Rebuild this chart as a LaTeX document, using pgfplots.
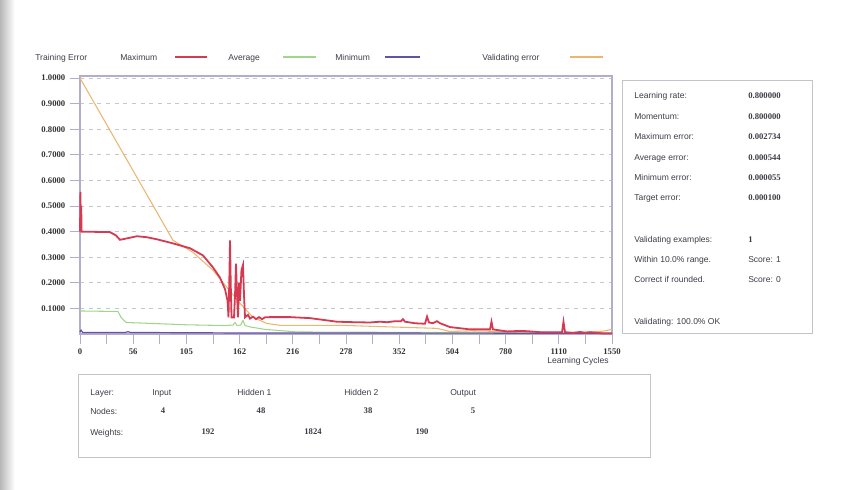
\documentclass[border=0pt]{standalone}
\usepackage{fontspec}
\setmainfont{Liberation Sans}
\newfontfamily\numfont{Liberation Serif}
\usepackage{pgfplots}
\pgfplotsset{compat=1.18}
\definecolor{maxc}{RGB}{214,58,82}
\definecolor{avgc}{RGB}{160,214,140}
\definecolor{minc}{RGB}{100,82,165}
\definecolor{valc}{RGB}{236,182,112}
\definecolor{axc}{RGB}{180,172,205}
\definecolor{boxc}{RGB}{195,195,200}
\definecolor{txt}{RGB}{60,60,70}
\newcommand\lab{\fontsize{6.4}{7.5}\selectfont}
\newcommand\num{\numfont\bfseries\fontsize{6.5}{7.5}\selectfont}
\tikzset{lt/.style={anchor=base west, text=txt, inner sep=0, yshift=-2.3pt},
         ct/.style={anchor=base, text=txt, inner sep=0, yshift=-2.2pt}}

\pgfplotstableread{
u      v
0      0.400
0.008  0.555
0.015  0.450
0.023  0.500
0.030  0.400
0.564  0.398
0.677  0.385
0.752  0.368
0.846  0.372
1.071  0.382
1.259  0.378
1.447  0.370
1.748  0.354
2.068  0.335
2.312  0.307
2.500  0.260
2.632  0.220
2.726  0.175
2.773  0.130
2.782  0.100
2.791  0.065
2.806  0.200
2.820  0.366
2.833  0.200
2.848  0.065
2.895  0.065
2.914  0.150
2.932  0.275
2.951  0.160
2.970  0.065
2.989  0.200
3.008  0.130
3.035  0.250
3.064  0.270
3.083  0.150
3.102  0.065
3.158  0.075
3.195  0.060
3.252  0.068
3.308  0.058
3.365  0.066
3.421  0.058
3.477  0.065
3.571  0.066
3.947  0.066
4.323  0.062
4.831  0.048
5.169  0.046
5.451  0.045
5.639  0.048
5.771  0.046
5.921  0.050
6.034  0.050
6.071  0.058
6.109  0.048
6.297  0.042
6.485  0.040
6.523  0.068
6.560  0.045
6.635  0.042
6.711  0.050
6.767  0.042
6.955  0.027
7.331  0.018
7.707  0.018
7.735  0.048
7.763  0.018
8.026  0.010
8.271  0.012
8.402  0.011
8.647  0.007
9.060  0.007
9.088  0.048
9.117  0.007
9.267  0.004
9.398  0.008
9.492  0.004
9.586  0.007
9.831  0.002
10.000 0.002
}\maxtab

\pgfplotstableread{
u      v
0      0.090
0.714  0.088
0.771  0.065
0.865  0.045
1.500  0.040
2.000  0.036
2.726  0.033
2.876  0.035
2.914  0.045
2.951  0.033
3.020  0.035
3.064  0.053
3.102  0.033
3.214  0.027
3.477  0.018
3.722  0.014
4.080  0.008
5.000  0.007
7.000  0.006
10.000 0.004
}\avgtab

\pgfplotstableread{
u      v
0      0.008
0.020  0.015
0.050  0.006
0.850  0.006
0.900  0.009
0.950  0.006
3.000  0.004
10.000 0.003
}\mintab

\pgfplotstableread{
u      v
0      1.000
1.748  0.366
2.124  0.319
2.500  0.249
2.763  0.182
3.008  0.120
3.252  0.065
3.515  0.041
3.759  0.034
4.887  0.034
5.940  0.027
6.711  0.022
6.955  0.010
7.331  0.012
8.500  0.008
9.266  0.007
9.586  0.009
9.830  0.011
10.000 0.018
}\valtab

\begin{document}
\begin{tikzpicture}
\useasboundingbox (0,0) rectangle (642pt,366.75pt);
\shade[left color=black!28, right color=white] (0,0) rectangle (11pt,366.75pt);

% legend
\node[lt] at (26.25pt,324pt) {\lab Training Error};
\node[lt] at (90pt,324pt) {\lab Maximum};
\draw[maxc, line width=1.1pt] (131.25pt,324pt) -- (155.25pt,324pt);
\node[lt] at (171pt,324pt) {\lab Average};
\draw[avgc, line width=1.1pt] (212.25pt,324pt) -- (237pt,324pt);
\node[lt] at (251.25pt,324pt) {\lab Minimum};
\draw[minc, line width=1.1pt] (288.75pt,324pt) -- (315pt,324pt);
\node[lt] at (361.5pt,324pt) {\lab Validating error};
\draw[valc, line width=1.1pt] (427.5pt,324pt) -- (452.25pt,324pt);

\begin{axis}[
  at={(60pt,116.25pt)}, anchor=south west,
  scale only axis, width=399pt, height=193.5pt,
  xmin=0, xmax=10, ymin=0, ymax=1.008,
  axis line style={draw=axc, line width=0.8pt},
  tick align=outside, xtick pos=lower, ytick pos=left,
  major tick length=7.5pt,
  tick style={draw=axc, line width=0.6pt},
  xtick={0,0.5,...,10},
  xticklabels={0,,56,,105,,162,,216,,278,,352,,504,,780,,1110,,1550},
  ytick={0.1,0.2,0.3,0.4,0.5,0.6,0.7,0.8,0.9,1.0},
  yticklabels={0.1000,0.2000,0.3000,0.4000,0.5000,0.6000,0.7000,0.8000,0.9000,1.0000},
  /pgf/number format/assume math mode=true,
  ticklabel style={font=\num, text=black!80},
  ymajorgrids,
  grid style={draw=black!22, line width=0.5pt, dash pattern=on 3pt off 3.5pt},
  clip=false,
]
\addplot[avgc, line width=0.8pt] table[x=u,y=v] {\avgtab};
\addplot[minc, line width=0.9pt] table[x=u,y=v] {\mintab};
\addplot[valc, line width=0.8pt] table[x=u,y=v] {\valtab};
\addplot[maxc, line width=1.35pt] table[x=u,y=v] {\maxtab};
\end{axis}

\node[ct] at (433.5pt,96pt) {\lab Learning Cycles};

% right panel
\draw[boxc, line width=0.7pt] (466.5pt,117pt) rectangle (609pt,306.75pt);
\foreach \y/\a/\b in {295.5/Learning rate:/0.800000, 279.75/Momentum:/0.800000, 264.75/Maximum error:/0.002734, 249/Average error:/0.000544, 234/Minimum error:/0.000055, 219/Target error:/0.000100, 187.5/Validating examples:/1}{
  \node[lt] at (475.5pt,\y pt) {\lab \a};
  \node[lt] at (561pt,\y pt) {\num \b};
}
\node[lt] at (475.5pt,172.5pt) {\lab Within 10.0\% range.};
\node[lt] at (561pt,172.5pt) {\lab Score: 1};
\node[lt] at (475.5pt,157.5pt) {\lab Correct if rounded.};
\node[lt] at (561pt,157.5pt) {\lab Score: 0};
\node[lt] at (475.5pt,126pt) {\lab Validating: 100.0\% OK};

% bottom panel
\draw[boxc, line width=0.7pt] (58.5pt,24pt) rectangle (487.5pt,86.25pt);
\node[lt] at (67.5pt,72.75pt) {\lab Layer:};
\node[lt] at (67.5pt,58.5pt) {\lab Nodes:};
\node[lt] at (67.5pt,42.75pt) {\lab Weights:};
\node[lt] at (114pt,72.75pt) {\lab Input};
\node[lt] at (177.75pt,72.75pt) {\lab Hidden 1};
\node[lt] at (258pt,72.75pt) {\lab Hidden 2};
\node[lt] at (337.5pt,72.75pt) {\lab Output};
\node[ct] at (122.25pt,58.5pt) {\num 4};
\node[ct] at (195.75pt,58.5pt) {\num 48};
\node[ct] at (276pt,58.5pt) {\num 38};
\node[ct] at (354.75pt,58.5pt) {\num 5};
\node[ct] at (156pt,42.75pt) {\num 192};
\node[ct] at (234.75pt,42.75pt) {\num 1824};
\node[ct] at (316.5pt,42.75pt) {\num 190};
\end{tikzpicture}
\end{document}
